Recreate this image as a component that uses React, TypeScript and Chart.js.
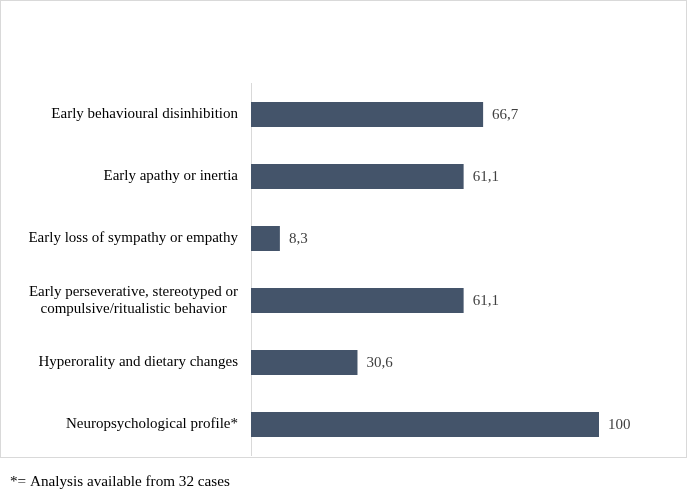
import React, { useEffect, useRef } from "react";
import { Chart, registerables } from "chart.js";

Chart.register(...registerables);

const categories: (string | string[])[] = [
  "Early behavioural disinhibition",
  "Early apathy or inertia",
  "Early loss of sympathy or empathy",
  ["Early perseverative, stereotyped or", "compulsive/ritualistic behavior   "],
  "Hyperorality and dietary changes",
  "Neuropsychological profile*",
];
const values: number[] = [66.7, 61.1, 8.3, 61.1, 30.6, 100];
const footnote = "*= Analysis available from 32 cases";

const FONT = '"Liberation Serif", "Times New Roman", serif';

export default function App() {
  const ref = useRef<HTMLCanvasElement | null>(null);
  useEffect(() => {
    if (!ref.current) return;
    const decor = {
      id: "decor",
      afterDraw(chart: any) {
        const ctx = chart.ctx;
        ctx.save();
        ctx.strokeStyle = "#d9d9d9";
        ctx.lineWidth = 1;
        ctx.strokeRect(0.5, 0.5, 686, 457);
        ctx.font = `15px ${FONT}`;
        ctx.fillStyle = "#404040";
        ctx.textBaseline = "middle";
        ctx.textAlign = "left";
        const meta = chart.getDatasetMeta(0);
        meta.data.forEach((el: any, i: number) => {
          const v = values[i];
          const txt = Number.isInteger(v) ? String(v) : v.toFixed(1).replace(".", ",");
          ctx.fillText(txt, el.x + 9, el.y + 1);
        });
        ctx.font = `15.2px ${FONT}`;
        ctx.fillStyle = "#000000";
        ctx.fillText(footnote, 10, 482);
        ctx.restore();
      },
    };
    const chart = new Chart(ref.current, {
      type: "bar",
      data: {
        labels: categories,
        datasets: [
          {
            data: values,
            backgroundColor: "#44546a",
            categoryPercentage: 1,
            barPercentage: 0.4,
          },
        ],
      },
      options: {
        indexAxis: "y",
        animation: false,
        responsive: false,
        devicePixelRatio: 1,
        layout: { padding: { top: 83.5, right: 88, bottom: 36.5, left: 0 } },
        plugins: { legend: { display: false }, tooltip: { enabled: false } },
        scales: {
          x: { display: false, min: 0, max: 100 },
          y: {
            grid: { display: false, drawTicks: false },
            border: { display: true, color: "#d9d9d9", width: 1 },
            ticks: {
              color: "#000000",
              font: { family: FONT, size: 15, lineHeight: 1.15 },
              padding: 13,
            },
            afterFit: (scale: any) => {
              scale.width = 251;
            },
          },
        },
      },
      plugins: [decor],
    });
    return () => chart.destroy();
  }, []);
  return (
    <div style={{ position: "fixed", left: 0, top: 0, width: 687, height: 492, background: "#fff" }}>
      <canvas ref={ref} width={687} height={492} style={{ display: "block" }} />
    </div>
  );
}
